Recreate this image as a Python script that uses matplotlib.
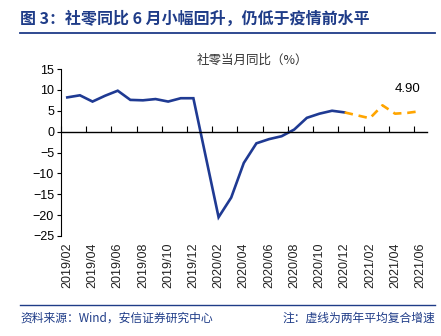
import numpy as np
import matplotlib
matplotlib.use("Agg")
import matplotlib.pyplot as plt
import matplotlib.transforms as mtransforms

plt.rcParams['font.family'] = ['Liberation Sans', 'Noto Sans CJK SC', 'DejaVu Sans']

# 类目：2019/02 - 2021/06 逐月
meses = []
for ano in (2019, 2020, 2021):
    for m in range(1, 13):
        if (ano == 2019 and m < 2) or (ano == 2021 and m > 6):
            continue
        meses.append(f"{ano}/{m:02d}")

# 社零当月同比（%），1月与2月合并，1月无数据
real = [8.2, 8.7, 7.2, 8.6, 9.8, 7.6, 7.5, 7.8, 7.2, 8.0, 8.0,
        np.nan, -20.5, -15.8, -7.5, -2.8, -1.8, -1.1, 0.5, 3.3, 4.3, 5.0, 4.6]
# 两年平均复合增速（虚线）
media_2anos = [4.6, np.nan, 3.2, 6.3, 4.3, 4.5, 4.9]
rotulo_ultimo = "4.90"

azul = '#1F3A93'
laranja = '#FFA500'
azul_titulo = '#1F3C88'

fig = plt.figure(figsize=(4.41, 3.36), dpi=100)
ax = fig.add_axes([61 / 441, 1 - 236 / 336, (426.6 - 61) / 441, (236 - 69) / 336])

x_real = np.arange(len(real))
ok = ~np.isnan(real)
ax.plot(x_real[ok], np.array(real)[ok], color=azul, lw=1.9, solid_joinstyle='miter')

x_media = np.arange(len(real) - 1, len(real) - 1 + len(media_2anos))
ok2 = ~np.isnan(media_2anos)
ax.plot(x_media[ok2], np.array(media_2anos)[ok2], color=laranja, lw=1.9,
        dashes=(3.2, 2.2))
ax.annotate(rotulo_ultimo, (x_media[-1], media_2anos[-1]), xytext=(-9, 12),
            textcoords='offset points', ha='center', va='bottom', fontsize=9.5)

ax.set_xlim(-0.5, len(meses) - 0.5)
ax.set_ylim(-25, 15)
ax.set_yticks(np.arange(-25, 16, 5))
ax.tick_params(axis='y', direction='out', length=3, width=0.8, labelsize=9, pad=2)

for lado in ('top', 'right'):
    ax.spines[lado].set_visible(False)
ax.spines['left'].set_linewidth(0.8)
ax.spines['bottom'].set_position(('data', 0))
ax.spines['bottom'].set_linewidth(1.0)
ax.set_xticks(np.arange(-0.5, len(meses), 2))
ax.tick_params(axis='x', direction='in', length=4, width=0.8, labelbottom=False)

trans = mtransforms.blended_transform_factory(ax.transData, ax.transAxes)
for i in range(0, len(meses), 2):
    ax.text(i, -0.04, meses[i], transform=trans, rotation=90, ha='center',
            va='top', fontsize=9, color='#222222')

# 标题
fig.text(20 / 441, 1 - 19 / 336, "图 3：社零同比 6 月小幅回升，仍低于疫情前水平",
         fontsize=11.5, fontweight='bold', color=azul_titulo, va='center',
         family=['Noto Sans CJK SC'])
fig.add_artist(plt.Line2D([20 / 441, 435 / 441], [1 - 33 / 336] * 2,
                          color=azul_titulo, lw=1.3))
fig.text(252 / 441, 1 - 60 / 336, "社零当月同比（%）", fontsize=9, color='#333333',
         ha='center', va='center', family=['Noto Sans CJK SC'])

# 脚注
fig.add_artist(plt.Line2D([20 / 441, 435 / 441], [1 - 305 / 336] * 2,
                          color=azul_titulo, lw=1.0))
fig.text(20 / 441, 1 - 318 / 336, "资料来源：Wind，安信证券研究中心", fontsize=8.5,
         color=azul_titulo, va='center', style='italic',
         family=['Noto Sans CJK SC', 'DejaVu Sans'])
fig.text(435 / 441, 1 - 318 / 336, "注：虚线为两年平均复合增速", fontsize=8.5,
         color=azul_titulo, va='center', ha='right', style='italic',
         family=['Noto Sans CJK SC', 'DejaVu Sans'])

fig.savefig('out.png', dpi=100)
